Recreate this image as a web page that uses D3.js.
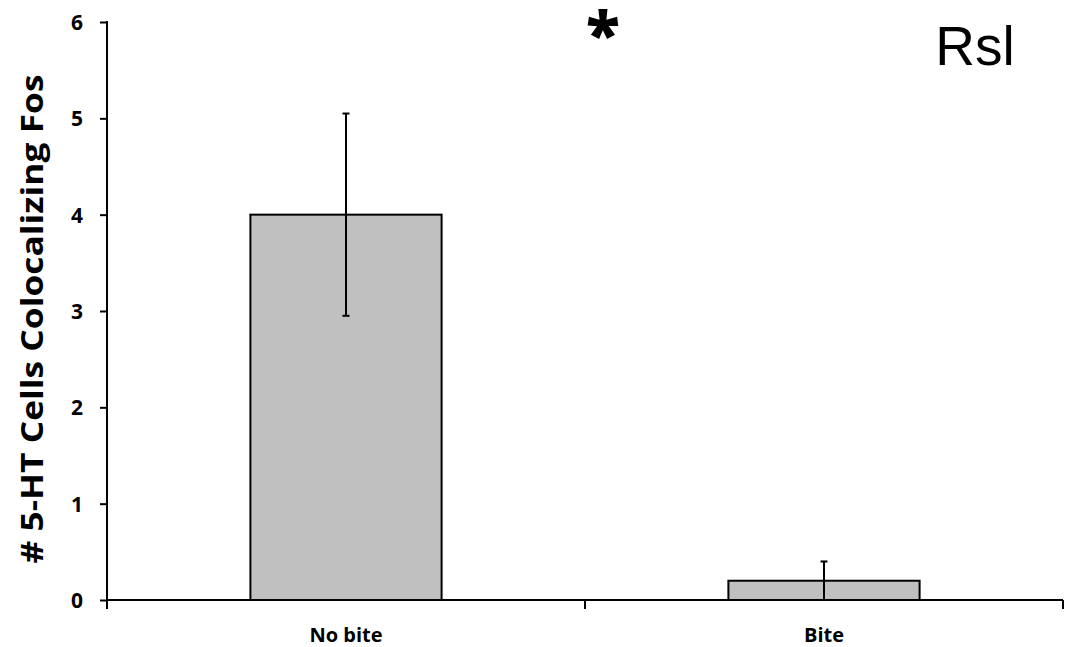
<!DOCTYPE html>
<html>
<head>
<meta charset="utf-8">
<script src="https://cdn.jsdelivr.net/npm/d3@7"></script>
<style>
  html, body { margin: 0; padding: 0; background: #fff; }
  svg { display: block; }
</style>
</head>
<body>
<svg id="chart" width="1072" height="647"></svg>
<script>
// Fos-positive serotonergic cells in the Rsl, by group
const categories = ["No bite", "Bite"];
const means = [4.0, 0.2];
const errors = [1.05, 0.2];
const yTicks = [0, 1, 2, 3, 4, 5, 6];

const svg = d3.select("#chart");
const plotLeft = 107, plotRight = 1063, plotTop = 22, plotBottom = 600;

const x = d3.scaleBand()
  .domain(categories)
  .range([plotLeft, plotRight])
  .paddingInner(0.6)
  .paddingOuter(0.3);

const y = d3.scaleLinear()
  .domain([0, 6])
  .range([plotBottom, plotTop]);

const labelFont = "'Open Sans', 'Noto Sans', sans-serif";

// bars
svg.append("g").selectAll("rect")
  .data(categories)
  .join("rect")
  .attr("x", d => x(d))
  .attr("y", (d, i) => y(means[i]))
  .attr("width", x.bandwidth())
  .attr("height", (d, i) => y(0) - y(means[i]))
  .attr("fill", "#c0c0c0")
  .attr("stroke", "#000")
  .attr("stroke-width", 2);

// error bars
const eb = svg.append("g").attr("stroke", "#000").attr("stroke-width", 2);
categories.forEach((c, i) => {
  const cx = Math.round(x(c) + x.bandwidth() / 2);
  const lo = Math.max(0, means[i] - errors[i]);
  const hi = means[i] + errors[i];
  eb.append("line").attr("x1", cx).attr("x2", cx).attr("y1", y(lo)).attr("y2", y(hi));
  eb.append("line").attr("x1", cx - 3.5).attr("x2", cx + 3.5).attr("y1", y(hi)).attr("y2", y(hi));
  if (lo > 0) eb.append("line").attr("x1", cx - 3.5).attr("x2", cx + 3.5).attr("y1", y(lo)).attr("y2", y(lo));
});

// y axis
const yAxis = svg.append("g")
  .attr("transform", `translate(${plotLeft},0)`)
  .call(d3.axisLeft(y).tickValues(yTicks).tickFormat(d3.format("d")).tickSize(7).tickSizeOuter(0));
yAxis.select(".domain").remove();
yAxis.append("line")
  .attr("x1", 0).attr("x2", 0)
  .attr("y1", plotTop - 1).attr("y2", plotBottom + 9)
  .attr("stroke", "#000").attr("stroke-width", 2);
yAxis.selectAll(".tick line").attr("stroke", "#000").attr("stroke-width", 2);
yAxis.selectAll(".tick text")
  .attr("x", -24)
  .attr("dy", "0.36em")
  .attr("fill", "#000")
  .style("font-family", labelFont)
  .style("font-weight", "bold")
  .style("font-size", "21px");

// x axis with ticks at category boundaries
const xg = svg.append("g");
xg.append("line")
  .attr("x1", plotLeft).attr("x2", plotRight)
  .attr("y1", plotBottom).attr("y2", plotBottom)
  .attr("stroke", "#000").attr("stroke-width", 2);
const boundaries = categories.map((c, i) => plotLeft + (i + 1) * x.step());
xg.selectAll("line.tk")
  .data(boundaries)
  .join("line")
  .attr("class", "tk")
  .attr("x1", d => d).attr("x2", d => d)
  .attr("y1", plotBottom).attr("y2", plotBottom + 9)
  .attr("stroke", "#000").attr("stroke-width", 2);
xg.selectAll("text")
  .data(categories)
  .join("text")
  .attr("x", d => x(d) + x.bandwidth() / 2)
  .attr("y", 642)
  .attr("text-anchor", "middle")
  .attr("fill", "#000")
  .style("font-family", labelFont)
  .style("font-weight", "bold")
  .style("font-size", "20px")
  .text(d => d);

// y axis title
svg.append("text")
  .attr("transform", "translate(43,319) rotate(-90)")
  .attr("text-anchor", "middle")
  .attr("fill", "#000")
  .style("font-family", labelFont)
  .style("font-weight", "bold")
  .style("font-size", "30px")
  .attr("textLength", 489)
  .attr("lengthAdjust", "spacingAndGlyphs")
  .text("# 5-HT Cells Colocalizing Fos");

// significance marker
svg.append("text")
  .attr("x", 603)
  .attr("y", 56)
  .attr("text-anchor", "middle")
  .attr("fill", "#000")
  .style("font-family", labelFont)
  .style("font-weight", "800")
  .style("font-size", "62px")
  .text("*");

// region label
svg.append("text")
  .attr("x", 975)
  .attr("y", 65)
  .attr("text-anchor", "middle")
  .attr("fill", "#000")
  .style("font-family", "'Liberation Sans', Arial, sans-serif")
  .style("font-size", "55px")
  .text("Rsl");
</script>
</body>
</html>
